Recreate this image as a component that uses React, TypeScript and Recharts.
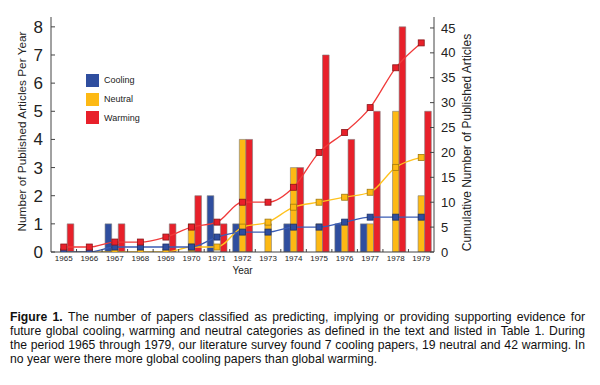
import React from "react";
import {
  ComposedChart,
  Bar,
  Line,
  XAxis,
  YAxis,
  Legend,
} from "recharts";

// yearly counts (left axis)
const years = ["1965", "1966", "1967", "1968", "1969", "1970", "1971", "1972", "1973", "1974", "1975", "1976", "1977", "1978", "1979"];
const coolingPerYear = [0, 0, 1, 0, 0, 0, 2, 1, 0, 1, 0, 1, 1, 0, 0];
const neutralPerYear = [0, 0, 0, 0, 0, 1, 0, 4, 1, 3, 1, 1, 1, 5, 2];
const warmingPerYear = [1, 0, 1, 0, 1, 2, 1, 4, 0, 3, 7, 4, 5, 8, 5];

// cumulative totals (right axis)
const coolingCumulative = [0, 0, 1, 1, 1, 1, 3, 4, 4, 5, 5, 6, 7, 7, 7];
const neutralCumulative = [0, 0, 0, 0, 0, 1, 1, 5, 6, 9, 10, 11, 12, 17, 19];
const warmingCumulative = [1, 1, 2, 2, 3, 5, 6, 10, 10, 13, 20, 24, 29, 37, 42];

const leftTicks = [0, 1, 2, 3, 4, 5, 6, 7, 8];
const rightTicks = [0, 5, 10, 15, 20, 25, 30, 35, 40, 45];

const seriesNames = ["Cooling", "Neutral", "Warming"];

const BLUE = "#2f4e9f";
const YELLOW = "#fdb914";
const RED = "#e8202a";
const AXIS = "#444";
const FONT = "'Liberation Sans', Arial, Helvetica, sans-serif";

const chartData = years.map((year, i) => ({
  year,
  cooling: coolingPerYear[i],
  neutral: neutralPerYear[i],
  warming: warmingPerYear[i],
  coolingTotal: coolingCumulative[i],
  neutralTotal: neutralCumulative[i],
  warmingTotal: warmingCumulative[i],
}));

const squareDot = (fill: string, stroke: string) => (props: any) => {
  const { cx, cy, index } = props;
  if (cx == null || cy == null) return <g key={index} />;
  return (
    <rect
      key={index}
      x={cx - 3}
      y={cy - 3}
      width={6}
      height={6}
      fill={fill}
      stroke={stroke}
      strokeWidth={0.8}
    />
  );
};

// year label, plus a short inward tick on the boundary left of each category
const YearTick = (props: any) => {
  const { x, y, payload, index } = props;
  const half = payload?.offset ?? 0;
  const axisY = y - 3;
  return (
    <g>
      {index > 0 && half > 0 && (
        <line x1={x - half} x2={x - half} y1={axisY} y2={axisY - 3} stroke={AXIS} strokeWidth={1} />
      )}
      <text x={x} y={y} dy="0.71em" textAnchor="middle" fontSize={8} fill="#222" fontFamily={FONT}>
        {payload.value}
      </text>
    </g>
  );
};

const legendColors = [BLUE, YELLOW, RED];

function renderLegend() {
  return (
    <div style={{ fontFamily: FONT, fontSize: 9, color: "#222" }}>
      {seriesNames.map((name, i) => (
        <div key={name} style={{ display: "flex", alignItems: "center", height: 18.7 }}>
          <div style={{ width: 13, height: 13, flex: "none", background: legendColors[i], marginRight: 5 }} />
          <span>{name}</span>
        </div>
      ))}
    </div>
  );
}

const leftLabel = (props: any) => {
  const { viewBox } = props;
  const x = viewBox.x + 22;
  const y = viewBox.y + viewBox.height / 2 - 3;
  return (
    <text
      x={x}
      y={y}
      transform={`rotate(-90, ${x}, ${y})`}
      textAnchor="middle"
      dominantBaseline="central"
      fontSize={11.8}
      fill="#222"
      fontFamily={FONT}
    >
      Number of Published Articles Per Year
    </text>
  );
};

const rightLabel = (props: any) => {
  const { viewBox } = props;
  const x = viewBox.x + 33;
  const y = viewBox.y + viewBox.height / 2 + 8;
  return (
    <text
      x={x}
      y={y}
      transform={`rotate(-90, ${x}, ${y})`}
      textAnchor="middle"
      dominantBaseline="central"
      fontSize={12}
      fill="#222"
      fontFamily={FONT}
    >
      Cumulative Number of Published Articles
    </text>
  );
};

const captionLines = [
  "The number of papers classified as predicting, implying or providing supporting evidence for",
  "future global cooling, warming and neutral categories as defined in the text and listed in Table 1. During",
  "the period 1965 through 1979, our literature survey found 7 cooling papers, 19 neutral and 42 warming. In",
  "no year were there more global cooling papers than global warming.",
];

export default function App() {
  return (
    <div
      style={{
        position: "absolute",
        left: 0,
        top: 0,
        width: 600,
        height: 385,
        background: "#fff",
        fontFamily: FONT,
      }}
    >
      <ComposedChart
        width={600}
        height={290}
        data={chartData}
        margin={{ top: 17, right: 106, left: 0, bottom: 16 }}
        barGap={0}
      >
        <XAxis
          xAxisId="year"
          dataKey="year"
          interval={0}
          height={22}
          tickLine={false}
          tickSize={0}
          tickMargin={3}
          stroke={AXIS}
          tick={<YearTick />}
          label={{ value: "Year", position: "insideBottom", offset: 0, fontSize: 10, fill: "#222", fontFamily: FONT }}
        />
        <XAxis
          xAxisId="top"
          dataKey="year"
          orientation="top"
          height={0}
          tick={false}
          tickLine={false}
          stroke={AXIS}
        />
        <YAxis
          yAxisId="left"
          width={51}
          domain={[0, 8.35]}
          ticks={leftTicks}
          interval={0}
          allowDataOverflow
          tickSize={-4}
          tickMargin={12}
          stroke={AXIS}
          tick={{ fontSize: 17, fill: "#222", fontFamily: FONT }}
          label={{ content: leftLabel }}
        />
        <YAxis
          yAxisId="right"
          orientation="right"
          width={60}
          domain={[0, 47.2]}
          ticks={rightTicks}
          interval={0}
          allowDataOverflow
          tickSize={-4}
          tickMargin={11}
          stroke={AXIS}
          tick={{ fontSize: 13, fill: "#222", fontFamily: FONT }}
          label={{ content: rightLabel }}
        />
        <Legend
          layout="vertical"
          verticalAlign="middle"
          align="center"
          wrapperStyle={{ left: 86, top: 71, width: 80 }}
          content={renderLegend}
        />
        <Bar xAxisId="year" yAxisId="left" dataKey="cooling" name="Cooling" fill={BLUE} stroke="#7d7d7d" strokeWidth={0.6} barSize={6.6} isAnimationActive={false} />
        <Bar xAxisId="year" yAxisId="left" dataKey="neutral" name="Neutral" fill={YELLOW} stroke="#7d7d7d" strokeWidth={0.6} barSize={6.6} isAnimationActive={false} />
        <Bar xAxisId="year" yAxisId="left" dataKey="warming" name="Warming" fill={RED} stroke="#7d7d7d" strokeWidth={0.6} barSize={6.6} isAnimationActive={false} />
        <Line xAxisId="year" yAxisId="right" type="monotone" dataKey="neutralTotal" stroke="#ffc21e" strokeWidth={1.3} dot={squareDot(YELLOW, "#a07a10")} activeDot={false} legendType="none" isAnimationActive={false} />
        <Line xAxisId="year" yAxisId="right" type="monotone" dataKey="coolingTotal" stroke="#3a5cb5" strokeWidth={1.3} dot={squareDot(BLUE, "#1c2f66")} activeDot={false} legendType="none" isAnimationActive={false} />
        <Line xAxisId="year" yAxisId="right" type="monotone" dataKey="warmingTotal" stroke="#f03a3a" strokeWidth={1.3} dot={squareDot(RED, "#8a1418")} activeDot={false} legendType="none" isAnimationActive={false} />
      </ComposedChart>
      <div
        style={{
          position: "absolute",
          left: 10,
          top: 310,
          width: 575,
          fontSize: 12.2,
          lineHeight: "14px",
          color: "#111",
        }}
      >
        {captionLines.map((line, i) => (
          <div
            key={i}
            style={{
              textAlign: "justify",
              textAlignLast: i < captionLines.length - 1 ? "justify" : "left",
              whiteSpace: "nowrap",
            }}
          >
            {i === 0 && <b>Figure 1. </b>}
            {line}
          </div>
        ))}
      </div>
    </div>
  );
}
